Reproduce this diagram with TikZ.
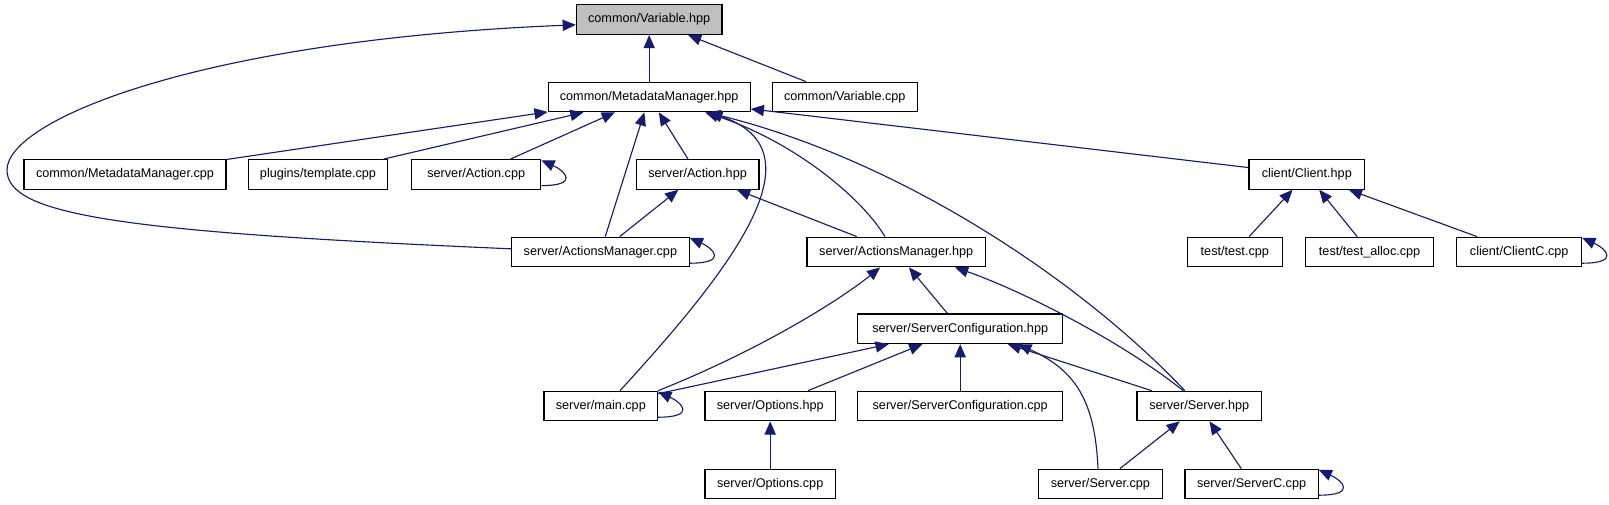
\documentclass[tikz,border=0pt]{standalone}
\usepackage{fontspec}
\setmainfont{Liberation Sans}
\usetikzlibrary{arrows.meta}

\definecolor{edgeblue}{HTML}{191970}
\definecolor{rootgray}{HTML}{BFBFBF}

\begin{document}
\begin{tikzpicture}[
  file/.style={draw=black, line width=0.8pt, fill=white, minimum height=0.74cm, inner sep=0pt, font=\fontsize{9}{11}\selectfont},
  root/.style={file, fill=rootgray},
  dep/.style={edgeblue, line width=0.8pt, -{Triangle[length=0.33cm, width=0.28cm]}}]
% page background
\fill[white] (0,0) rectangle (40.225,-12.6);
\useasboundingbox (0,0) rectangle (40.225,-12.6);
% header being documented
\node[root, minimum width=3.64cm] (vhpp) at (16.23,-0.49) {common/Variable.hpp};
% second row
\node[file, minimum width=5.05cm] (mdmh) at (16.23,-2.425) {common/MetadataManager.hpp};
\node[file, minimum width=3.63cm] (vcpp) at (21.12,-2.425) {common/Variable.cpp};
% third row
\node[file, minimum width=5.05cm] (mdmc) at (3.125,-4.36) {common/MetadataManager.cpp};
\node[file, minimum width=3.49cm] (tmpl) at (7.95,-4.36) {plugins/template.cpp};
\node[file, minimum width=3.23cm] (actc) at (11.905,-4.36) {server/Action.cpp};
\node[file, minimum width=3.07cm] (acth) at (17.44,-4.36) {server/Action.hpp};
\node[file, minimum width=2.89cm] (clh) at (32.67,-4.36) {client/Client.hpp};
% fourth row
\node[file, minimum width=4.44cm] (amc) at (15.01,-6.3) {server/ActionsManager.cpp};
\node[file, minimum width=4.46cm] (amh) at (22.405,-6.3) {server/ActionsManager.hpp};
\node[file, minimum width=2.375cm] (test) at (30.87,-6.3) {test/test.cpp};
\node[file, minimum width=3.21cm] (talloc) at (34.24,-6.3) {test/test\_alloc.cpp};
\node[file, minimum width=3.12cm] (clc) at (37.98,-6.3) {client/ClientC.cpp};
% fifth row
\node[file, minimum width=5.125cm] (sch) at (24.005,-8.22) {server/ServerConfiguration.hpp};
% sixth row
\node[file, minimum width=2.84cm] (main) at (15.02,-10.15) {server/main.cpp};
\node[file, minimum width=3.26cm] (opth) at (19.255,-10.15) {server/Options.hpp};
\node[file, minimum width=5.125cm] (scc) at (24.005,-10.15) {server/ServerConfiguration.cpp};
\node[file, minimum width=3.11cm] (srvh) at (29.98,-10.15) {server/Server.hpp};
% last row
\node[file, minimum width=3.26cm] (optc) at (19.255,-12.1) {server/Options.cpp};
\node[file, minimum width=3.11cm] (srvc) at (27.51,-12.1) {server/Server.cpp};
\node[file, minimum width=3.33cm] (srvcc) at (31.29,-12.1) {server/ServerC.cpp};
% includes of common/Variable.hpp
\draw[dep] (mdmh) -- (vhpp);
\draw[dep] (vcpp) -- (vhpp);
\draw[dep] ([yshift=0.08cm]amc.west) .. controls (3.0,-5.8) and (0.175,-5.375) .. (0.175,-4.25)
  .. controls (0.175,-3.0) and (5.0,-1.0) .. ([yshift=-0.13cm]vhpp.west);
% includes of common/MetadataManager.hpp
\draw[dep] (mdmc) -- (mdmh);
\draw[dep] (tmpl) -- (mdmh);
\draw[dep] (actc) -- (mdmh);
\draw[dep] (amc) -- (mdmh);
\draw[dep] (acth) -- (mdmh);
\draw[dep] ([xshift=-0.28cm]amh.north) .. controls (21.5,-4.875) and (19.75,-3.5) .. ([xshift=1.4cm]mdmh.south);
\draw[dep] ([xshift=0.48cm]main.north) .. controls (18.5,-6.5) and (20.5,-3.75) .. ([xshift=1.5cm]mdmh.south);
\draw[dep] ([xshift=-0.36cm]srvh.north) .. controls (27.0,-7.0) and (22.5,-4.0) .. ([xshift=1.45cm]mdmh.south);
\draw[dep] (clh) -- (mdmh);
% server/Action.hpp and server/ActionsManager.hpp
\draw[dep] (amc) -- (acth);
\draw[dep] (amh) -- (acth);
\draw[dep] (sch) -- (amh);
\draw[dep] (main.north east) .. controls (19.0,-8.75) and (21.0,-7.5) .. ([xshift=-0.4cm]amh.south);
\draw[dep] ([xshift=-0.4cm]srvh.north) .. controls (28.0,-8.5) and (25.5,-7.25) .. ([xshift=1.47cm]amh.south);
% client side
\draw[dep] (test) -- (clh);
\draw[dep] (talloc) -- (clh);
\draw[dep] (clc) -- (clh);
% server/ServerConfiguration.hpp
\draw[dep] (main) -- (sch);
\draw[dep] (opth) -- (sch);
\draw[dep] (scc) -- (sch);
\draw[dep] (srvh) -- (sch);
\draw[dep] ([xshift=-0.06cm]srvc.north) .. controls (27.375,-10.0) and (26.875,-9.25) .. ([xshift=1.45cm]sch.south);
% lowest level
\draw[dep] (optc) -- (opth);
\draw[dep] (srvc) -- (srvh);
\draw[dep] (srvcc) -- (srvh);
% files that include themselves
\foreach \n in {actc,amc,clc,main,srvcc}
  \draw[dep] ([yshift=-0.28cm]\n.east) .. controls +(0.95,0) and +(0.6,-0.27) .. ([yshift=-0.03cm]\n.north east);
\end{tikzpicture}
\end{document}
